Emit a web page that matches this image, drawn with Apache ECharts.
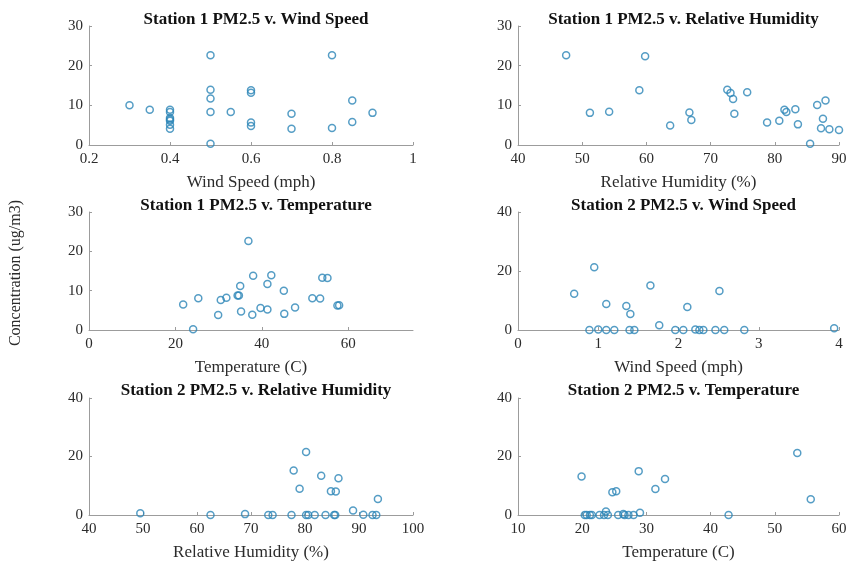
<!DOCTYPE html>
<html>
<head>
<meta charset="utf-8">
<script src="https://cdn.jsdelivr.net/npm/echarts@6/dist/echarts.min.js"></script>
<style>
  html, body { margin: 0; padding: 0; background: #fff; }
  #main { width: 853px; height: 562px; }
</style>
</head>
<body>
<div id="main"></div>
<script>
// Station 1 readings
var s1Wind = [0.3, 0.35, 0.4, 0.4, 0.4, 0.4, 0.4, 0.4, 0.4, 0.5, 0.5, 0.5, 0.5, 0.5, 0.55, 0.6, 0.6, 0.6, 0.6, 0.7, 0.7, 0.8, 0.8, 0.85, 0.85, 0.9];
var s1WindPM = [10.0, 8.9, 8.9, 8.3, 6.8, 6.4, 6.1, 5.1, 4.1, 22.6, 13.9, 11.7, 8.3, 0.3, 8.3, 13.8, 13.2, 5.7, 4.8, 7.9, 4.1, 22.6, 4.3, 11.2, 5.8, 8.1];

var s1RH = [47.5, 59.8, 58.9, 51.2, 54.2, 63.7, 66.7, 67.0, 72.6, 73.1, 73.5, 73.7, 75.7, 78.8, 80.7, 81.5, 81.8, 83.2, 83.6, 85.5, 86.6, 87.9, 87.5, 87.2, 88.5, 90.0];
var s1RHPM = [22.6, 22.4, 13.8, 8.1, 8.4, 4.9, 8.2, 6.3, 13.9, 13.1, 11.6, 7.9, 13.3, 5.7, 6.1, 8.9, 8.3, 9.0, 5.2, 0.3, 10.1, 11.2, 6.6, 4.2, 4.0, 3.8];

var s1Temp = [21.8, 24.1, 25.3, 29.9, 30.5, 31.8, 34.4, 34.7, 35.0, 35.2, 36.9, 37.8, 38.0, 39.7, 41.3, 41.3, 42.2, 45.1, 45.2, 47.7, 51.7, 53.5, 54.0, 55.2, 57.5, 57.9];
var s1TempPM = [6.5, 0.2, 8.1, 3.8, 7.6, 8.2, 8.8, 8.8, 11.2, 4.7, 22.6, 3.9, 13.8, 5.6, 11.7, 5.2, 13.9, 10.0, 4.1, 5.7, 8.1, 8.0, 13.3, 13.2, 6.2, 6.3];

// Station 2 readings
var s2Wind = [0.70, 0.95, 1.10, 1.35, 1.40, 1.65, 1.76, 2.11, 2.51, 3.94, 0.89, 1.00, 1.10, 1.20, 1.39, 1.45, 1.96, 2.06, 2.21, 2.26, 2.31, 2.46, 2.57, 2.82];
var s2WindPM = [12.3, 21.3, 8.8, 8.1, 5.4, 15.1, 1.6, 7.8, 13.2, 0.6, 0, 0.2, 0, 0, 0, 0, 0, 0, 0.2, 0, 0, 0, 0, 0];

var s2RH = [49.5, 62.5, 68.9, 73.2, 74.0, 77.5, 77.9, 79.0, 80.2, 80.2, 80.6, 81.8, 83.0, 83.8, 84.8, 85.7, 85.4, 85.6, 86.2, 88.9, 90.8, 92.5, 93.2, 93.5];
var s2RHPM = [0.6, 0, 0.3, 0, 0, 0, 15.2, 9.0, 21.5, 0, 0, 0, 13.4, 0, 8.1, 8.0, 0, 0, 12.6, 1.5, 0.1, 0, 0, 5.5];

var s2Temp = [19.9, 28.8, 32.9, 31.4, 24.7, 25.3, 23.7, 29.0, 53.5, 55.6, 42.8, 20.4, 20.7, 21.2, 21.5, 22.7, 23.4, 24.0, 25.6, 26.4, 26.6, 27.2, 28.0];
var s2TempPM = [13.2, 15.0, 12.3, 8.9, 7.8, 8.1, 1.2, 0.8, 21.2, 5.4, 0, 0, 0, 0, 0, 0, 0, 0, 0, 0.3, 0, 0, 0];

var titles = [
  'Station 1 PM2.5 v. Wind Speed', 'Station 1 PM2.5 v. Relative Humidity',
  'Station 1 PM2.5 v. Temperature', 'Station 2 PM2.5 v. Wind Speed',
  'Station 2 PM2.5 v. Relative Humidity', 'Station 2 PM2.5 v. Temperature'
];
var xNames = ['Wind Speed (mph)', 'Relative Humidity (%)', 'Temperature (C)', 'Wind Speed (mph)', 'Relative Humidity (%)', 'Temperature (C)'];
var xRanges = [[0.2, 1, 0.2], [40, 90, 10], [0, 75, 20], [0, 4, 1], [40, 100, 10], [10, 60, 10]];
var yRanges = [[0, 30, 10], [0, 30, 10], [0, 30, 10], [0, 40, 20], [0, 40, 20], [0, 40, 20]];
var xs = [s1Wind, s1RH, s1Temp, s2Wind, s2RH, s2Temp];
var ys = [s1WindPM, s1RHPM, s1TempPM, s2WindPM, s2RHPM, s2TempPM];

var FONT = '"Liberation Serif", "Times New Roman", serif';
var AXIS_COLOR = '#9c9c9c';
var TEXT_COLOR = '#2b2b2b';
var MARK_COLOR = '#2a84b6';

var colLeft = [89, 518], colWidth = [324, 321];
var rowTop = [26, 212, 398], rowHeight = [119, 118, 117];
var titleTop = [6, 192, 377];

var grids = [], xAxes = [], yAxes = [], series = [], titleList = [];

for (var i = 0; i < 6; i++) {
  var r = Math.floor(i / 2), c = i % 2;
  grids.push({ left: colLeft[c], top: rowTop[r], width: colWidth[c], height: rowHeight[r] });
  titleList.push({
    text: titles[i],
    left: colLeft[c] + colWidth[c] / 2,
    top: titleTop[r],
    textAlign: 'center',
    textStyle: { fontFamily: FONT, fontSize: 17, fontWeight: 'bold', color: '#111' }
  });
  xAxes.push({
    type: 'value', gridIndex: i,
    min: xRanges[i][0], max: xRanges[i][1], interval: xRanges[i][2],
    name: xNames[i], nameLocation: 'middle', nameGap: 29,
    nameTextStyle: { fontFamily: FONT, fontSize: 17, color: TEXT_COLOR },
    axisLine: { show: true, lineStyle: { color: AXIS_COLOR, width: 1 } },
    axisTick: { show: true, inside: true, length: 3, lineStyle: { color: AXIS_COLOR } },
    axisLabel: { fontFamily: FONT, fontSize: 15, color: TEXT_COLOR, margin: 7, showMaxLabel: i !== 2 },
    splitLine: { show: false }
  });
  yAxes.push({
    type: 'value', gridIndex: i,
    min: yRanges[i][0], max: yRanges[i][1], interval: yRanges[i][2],
    axisLine: { show: true, lineStyle: { color: AXIS_COLOR, width: 1 } },
    axisTick: { show: true, inside: true, length: 3, lineStyle: { color: AXIS_COLOR } },
    axisLabel: { fontFamily: FONT, fontSize: 15, color: TEXT_COLOR, margin: 6 },
    splitLine: { show: false }
  });
  var pts = [];
  for (var k = 0; k < xs[i].length; k++) pts.push([xs[i][k], ys[i][k]]);
  series.push({
    type: 'scatter', xAxisIndex: i, yAxisIndex: i,
    data: pts,
    symbol: 'circle', symbolSize: 7,
    itemStyle: { color: 'rgba(255,255,255,0)', borderColor: MARK_COLOR, borderWidth: 1.5 },
    emphasis: { disabled: true }
  });
}

var chart = echarts.init(document.getElementById('main'), null, { renderer: 'canvas' });
chart.setOption({
  backgroundColor: '#fff',
  animation: false,
  title: titleList,
  grid: grids,
  xAxis: xAxes,
  yAxis: yAxes,
  series: series,
  graphic: [{
    type: 'text',
    x: 16, y: 273,
    rotation: Math.PI / 2,
    style: {
      text: 'Concentration (ug/m3)',
      font: '16px ' + FONT,
      fill: TEXT_COLOR,
      align: 'center',
      verticalAlign: 'middle'
    }
  }]
});

window.addEventListener('resize', function () {
  chart.resize();
});
</script>
</body>
</html>
